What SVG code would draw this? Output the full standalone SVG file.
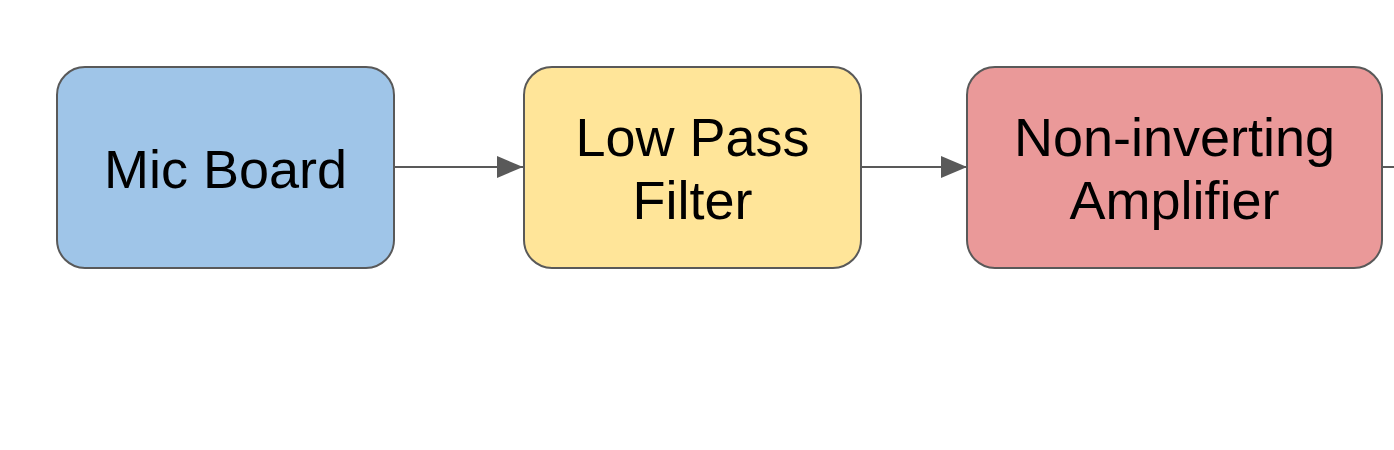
<svg xmlns="http://www.w3.org/2000/svg" width="1394" height="450" viewBox="0 0 1394 450">
<defs>
<marker id="arrow" markerWidth="26" markerHeight="22" refX="26" refY="11" orient="auto" markerUnits="userSpaceOnUse">
<path d="M0,0 L26,11 L0,22 Z" fill="#595959"/>
</marker>
<style>
.box{stroke:#595959;stroke-width:2}
.lbl{font-family:"Liberation Sans",Arial,sans-serif;font-size:54px;fill:#000;text-anchor:middle}
.conn{stroke:#595959;stroke-width:2;fill:none}
</style>
</defs>
<rect width="1394" height="450" fill="#ffffff"/>
<g id="connectors">
<line class="conn" x1="394" y1="167" x2="523" y2="167" marker-end="url(#arrow)"/>
<line class="conn" x1="861" y1="167" x2="967" y2="167" marker-end="url(#arrow)"/>
<line class="conn" x1="1382" y1="167" x2="1394" y2="167"/>
</g>
<g id="mic-board">
<rect class="box" x="57" y="67" width="337" height="201" rx="28" fill="#9fc5e8"/>
<text class="lbl" x="225.5" y="188">Mic Board</text>
</g>
<g id="low-pass-filter">
<rect class="box" x="524" y="67" width="337" height="201" rx="28" fill="#ffe599"/>
<text class="lbl" x="692.5" y="156">Low Pass</text>
<text class="lbl" x="692.5" y="219">Filter</text>
</g>
<g id="non-inverting-amplifier">
<rect class="box" x="967" y="67" width="415" height="201" rx="28" fill="#ea9999"/>
<text class="lbl" x="1174.5" y="156">Non-inverting</text>
<text class="lbl" x="1174.5" y="219">Amplifier</text>
</g>
</svg>
